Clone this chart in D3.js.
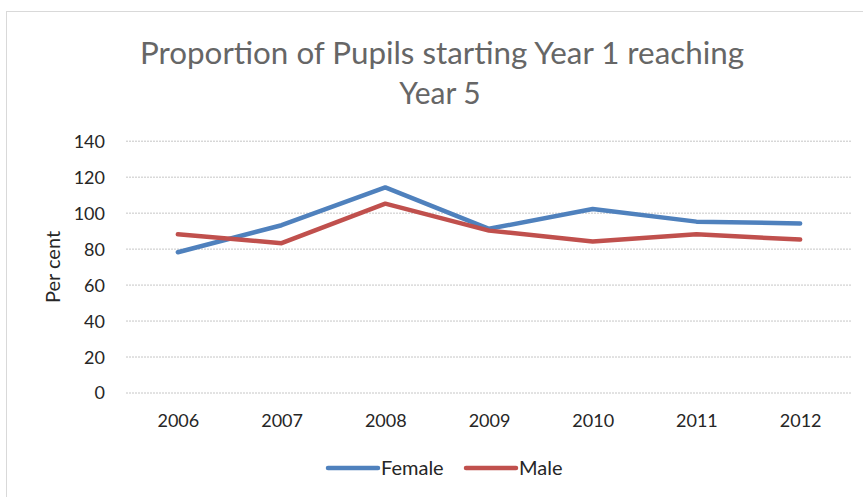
<!DOCTYPE html>
<html>
<head>
<meta charset="utf-8">
<script src="https://cdn.jsdelivr.net/npm/d3@7"></script>
<style>
  html, body { margin: 0; padding: 0; background: #fff; }
  svg { display: block; }
  text { font-family: Lato, "Open Sans", sans-serif; }
</style>
</head>
<body>
<svg id="chart" width="863" height="497"></svg>
<script>
const years = ["2006", "2007", "2008", "2009", "2010", "2011", "2012"];
const female = [78, 93, 114, 91, 102, 95, 94];
const male = [88, 83, 105, 90, 84, 88, 85];
const yTicks = [0, 20, 40, 60, 80, 100, 120, 140];
const seriesNames = ["Female", "Male"];
const seriesColors = ["#4F81BD", "#C0504D"];
const titleLines = ["Proportion of Pupils starting Year 1 reaching", "Year 5"];
const yLabel = "Per cent";

const svg = d3.select("#chart");

// chart border
svg.append("rect")
  .attr("x", 6.5).attr("y", 11.5)
  .attr("width", 880).attr("height", 500)
  .attr("fill", "#fff")
  .attr("stroke", "#d9d9d9").attr("stroke-width", 1);

const x = d3.scalePoint().domain(years).range([126, 852]).padding(0.5);
const y = d3.scaleLinear().domain([0, 140]).range([392.5, 140.7]);

// gridlines
const yAxis = d3.axisLeft(y).tickValues(yTicks).tickSize(0).tickPadding(0);
const gy = svg.append("g").attr("transform", "translate(126,0)").call(yAxis);
gy.select(".domain").remove();
gy.selectAll(".tick line")
  .attr("x2", 726)
  .attr("stroke", "#c6c6c6")
  .attr("stroke-width", 1)
  .attr("stroke-dasharray", "2,1");
gy.selectAll(".tick text")
  .attr("x", -21)
  .attr("dy", "0.36em")
  .attr("font-size", 18)
  .attr("fill", "#262626")
  .style("font-family", "Lato, sans-serif");

// x axis labels
const xAxis = d3.axisBottom(x).tickSize(0).tickPadding(0);
const gx = svg.append("g").attr("transform", "translate(0,392.5)").call(xAxis);
gx.select(".domain").remove();
gx.selectAll(".tick text")
  .attr("y", 34)
  .attr("dy", 0)
  .attr("font-size", 18)
  .attr("fill", "#262626")
  .style("font-family", "Lato, sans-serif");

// lines
const line = d3.line().x((d, i) => x(years[i])).y(d => y(d));
[female, male].forEach((vals, k) => {
  svg.append("path")
    .datum(vals)
    .attr("d", line)
    .attr("fill", "none")
    .attr("stroke", seriesColors[k])
    .attr("stroke-width", 4.5)
    .attr("stroke-linejoin", "round")
    .attr("stroke-linecap", "round");
});

// title
svg.append("text")
  .attr("x", 442).attr("y", 64)
  .attr("text-anchor", "middle")
  .attr("font-size", 30)
  .attr("fill", "#666666")
  .attr("textLength", 604)
  .attr("lengthAdjust", "spacingAndGlyphs")
  .text(titleLines[0]);
svg.append("text")
  .attr("x", 440).attr("y", 104)
  .attr("text-anchor", "middle")
  .attr("font-size", 30)
  .attr("fill", "#666666")
  .text(titleLines[1]);

// y label
svg.append("text")
  .attr("transform", "translate(60,267) rotate(-90)")
  .attr("text-anchor", "middle")
  .attr("font-size", 20)
  .attr("fill", "#262626")
  .text(yLabel);

// legend
const legendItems = [
  { name: seriesNames[0], color: seriesColors[0], x0: 328 },
  { name: seriesNames[1], color: seriesColors[1], x0: 466 }
];
legendItems.forEach(it => {
  svg.append("line")
    .attr("x1", it.x0).attr("x2", it.x0 + 50)
    .attr("y1", 468).attr("y2", 468)
    .attr("stroke", it.color).attr("stroke-width", 4.5)
    .attr("stroke-linecap", "round");
  svg.append("text")
    .attr("x", it.x0 + 53).attr("y", 475)
    .attr("font-size", 20)
    .attr("fill", "#262626")
    .text(it.name);
});
</script>
</body>
</html>
